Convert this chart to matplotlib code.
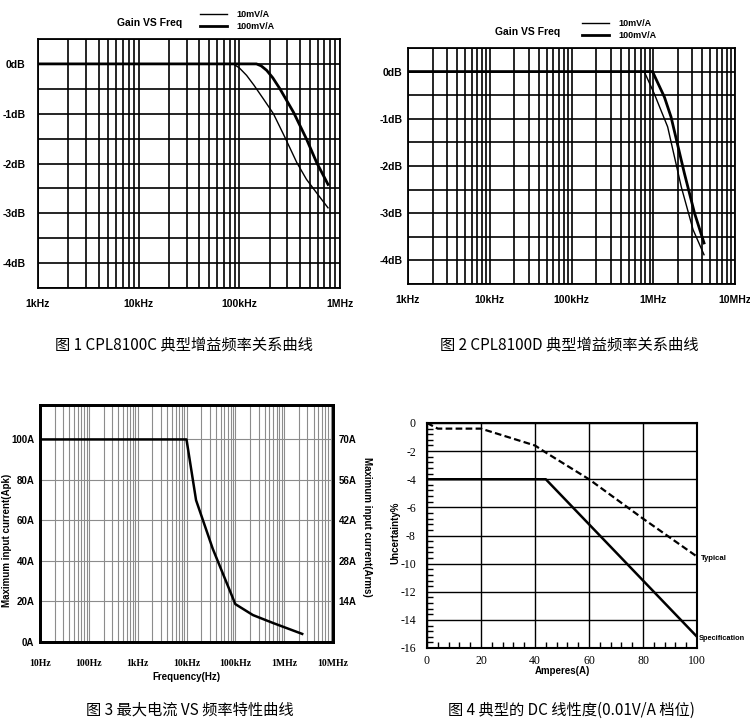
import numpy as np
import matplotlib
matplotlib.use("Agg")
import matplotlib.pyplot as plt
from matplotlib.lines import Line2D
from matplotlib.ticker import FixedLocator, LogLocator, MultipleLocator, NullFormatter

plt.rcParams["axes.unicode_minus"] = False

W, H = 750, 722
SANS = "Liberation Sans"
SERIF = "Liberation Serif"
CJK = ["Noto Sans CJK SC", "DejaVu Sans"]

# Fig 1 -- CPL8100C gain vs frequency (kHz, dB)
f1_10 = [1, 87, 100, 118, 140, 173, 218, 283, 372, 465, 586, 760]
g1_10 = [0, 0, -0.08, -0.23, -0.43, -0.70, -1.0, -1.47, -1.98, -2.32, -2.59, -2.89]
f1_100 = [1, 148, 165, 187, 215, 253, 345, 465, 586, 760]
g1_100 = [0, 0, -0.04, -0.13, -0.28, -0.50, -0.97, -1.51, -1.98, -2.42]

# Fig 2 -- CPL8100D gain vs frequency (kHz, dB)
f2_10 = [1, 776, 1030, 1500, 2200, 3070, 4180]
g2_10 = [0, 0, -0.47, -1.17, -2.44, -3.35, -3.88]
f2_100 = [1, 980, 1370, 1650, 2400, 3200, 4180]
g2_100 = [0, 0, -0.54, -0.96, -2.15, -3.0, -3.63]

gain_ticks = [0, -1, -2, -3, -4]
gain_labels = ["0dB", "-1dB", "-2dB", "-3dB", "-4dB"]
freq1_ticks = [1, 10, 100, 1000]
freq1_labels = ["1kHz", "10kHz", "100kHz", "1MHz"]
freq2_ticks = [1, 10, 100, 1000, 10000]
freq2_labels = ["1kHz", "10kHz", "100kHz", "1MHz", "10MHz"]
series_names = ["10mV/A", "100mV/A"]

# Fig 3 -- max input current vs frequency
f3 = [10, 1e4, 1.57e4, 3.45e4, 1e5, 2.29e5, 5.89e5, 2.34e6]
amp3 = [100, 100, 70, 46, 18.7, 13.3, 9.4, 4.0]
amp_ticks = [0, 20, 40, 60, 80, 100]
amp_labels = ["0A", "20A", "40A", "60A", "80A", "100A"]
rms_ticks = [14, 28, 42, 56, 70]
rms_labels = ["14A", "28A", "42A", "56A", "70A"]
freq3_ticks = [10, 100, 1e3, 1e4, 1e5, 1e6, 1e7]
freq3_labels = ["10Hz", "100Hz", "1kHz", "10kHz", "100kHz", "1MHz", "10MHz"]

# Fig 4 -- DC linearity
amps_typ = [0, 4, 20, 40, 44, 60, 80, 100]
unc_typ = [0, -0.4, -0.4, -1.6, -2.1, -4.0, -6.8, -9.5]
amps_spec = [0, 44, 100]
unc_spec = [-4, -4, -15.2]

captions = ["图 1 CPL8100C 典型增益频率关系曲线",
            "图 2 CPL8100D 典型增益频率关系曲线",
            "图 3 最大电流 VS 频率特性曲线",
            "图 4 典型的 DC 线性度(0.01V/A 档位)"]


def rect(l, t, r, b):
    return [l / W, 1 - b / H, (r - l) / W, (b - t) / H]


fig = plt.figure(figsize=(7.5, 7.22), dpi=100)
bold = dict(family=SANS, weight="bold", size=7)


def gain_panel(box, f10, g10, f100, g100, xticks, xlabels, xlim, pad, leg_xy, title_xy):
    ax = fig.add_axes(rect(*box))
    ax.plot(f10, g10, color="black", lw=1.0)
    ax.plot(f100, g100, color="black", lw=2.0)
    ax.set_xscale("log")
    ax.set_xlim(*xlim)
    ax.set_ylim(-4.5, 0.5)
    ax.xaxis.set_major_locator(FixedLocator(xticks))
    ax.set_xticklabels(xlabels, family=SANS, weight="bold", size=7.5)
    ax.xaxis.set_minor_locator(LogLocator(base=10, subs=range(2, 10)))
    ax.xaxis.set_minor_formatter(NullFormatter())
    ax.set_yticks(gain_ticks)
    ax.set_yticklabels(gain_labels, family=SANS, weight="bold", size=7.5)
    ax.yaxis.set_minor_locator(MultipleLocator(0.5))
    ax.grid(True, which="both", color="black", lw=1.2)
    ax.tick_params(which="both", length=0)
    ax.tick_params(axis="x", pad=8)
    ax.tick_params(axis="y", pad=pad)
    for s in ax.spines.values():
        s.set_linewidth(1.3)
    fig.text(title_xy[0] / W, 1 - title_xy[1] / H, "Gain VS Freq", ha="center", va="center",
             family=SANS, weight="bold", size=7.5)
    handles = [Line2D([], [], color="black", lw=1.0), Line2D([], [], color="black", lw=2.0)]
    fig.legend(handles, series_names, loc="upper left",
               bbox_to_anchor=(leg_xy[0] / W, 1 - leg_xy[1] / H),
               frameon=False, prop=dict(family=SANS, weight="bold", size=6.5),
               handlelength=3.0, handletextpad=1.0, labelspacing=0.35,
               borderpad=0, borderaxespad=0)
    return ax


gain_panel((38, 39, 340, 288), f1_10, g1_10, f1_100, g1_100,
           freq1_ticks, freq1_labels, (1, 1000), 9, (200, 10), (150, 23))
gain_panel((408, 48, 735, 284), f2_10, g2_10, f2_100, g2_100,
           freq2_ticks, freq2_labels, (1, 10000), 4, (582, 19), (528, 32))

# Fig 3
ax3 = fig.add_axes(rect(40, 405, 333, 642))
ax3.plot(f3, amp3, color="black", lw=1.8, zorder=3)
ax3.set_xscale("log")
ax3.set_xlim(10, 1e7)
ax3.set_ylim(0, 117)
ax3.xaxis.set_major_locator(FixedLocator(freq3_ticks))
ax3.set_xticklabels(freq3_labels, family=SERIF, weight="bold", size=7)
ax3.xaxis.set_minor_locator(LogLocator(base=10, subs=range(2, 10)))
ax3.xaxis.set_minor_formatter(NullFormatter())
ax3.set_yticks(amp_ticks)
ax3.set_yticklabels(amp_labels, **bold)
ax3.grid(True, which="both", color="#8c8c8c", lw=0.8)
ax3.tick_params(which="both", length=0)
ax3.tick_params(axis="x", pad=12)
ax3.tick_params(axis="y", pad=4)
for s in ax3.spines.values():
    s.set_linewidth(2.0)
ax3r = ax3.twinx()
ax3r.set_ylim(0, 117 * 0.7)
ax3r.set_yticks(rms_ticks)
ax3r.set_yticklabels(rms_labels, **bold)
ax3r.tick_params(length=0, pad=4)
for s in ax3r.spines.values():
    s.set_linewidth(2.0)
fig.text(186 / W, 1 - 677 / H, "Frequency(Hz)", ha="center", va="center", **bold)
fig.text(7 / W, 1 - 540 / H, "Maximum input current(Apk)", rotation=90,
         ha="center", va="center", **bold)
fig.text(367 / W, 1 - 527 / H, "Maximum input current(Arms)", rotation=-90,
         ha="center", va="center", **bold)

# Fig 4
ax4 = fig.add_axes(rect(427, 423, 697, 648))
ax4.plot(amps_typ, unc_typ, color="black", lw=1.6, ls=(0, (3, 1.5)))
ax4.plot(amps_spec, unc_spec, color="black", lw=1.8)
ax4.set_xlim(0, 100)
ax4.set_ylim(-16, 0)
ax4.xaxis.set_major_locator(MultipleLocator(20))
ax4.xaxis.set_minor_locator(MultipleLocator(4))
ax4.yaxis.set_major_locator(MultipleLocator(2))
ax4.yaxis.set_minor_locator(MultipleLocator(0.4))
ax4.grid(True, which="major", color="black", lw=1.0)
ax4.tick_params(which="both", direction="in", top=False, right=False)
ax4.tick_params(which="major", length=0, labelsize=8.5)
ax4.tick_params(which="minor", length=4, width=1.0)
ax4.tick_params(axis="y", pad=8)
ax4.tick_params(axis="x", pad=5)
for lab in ax4.get_xticklabels() + ax4.get_yticklabels():
    lab.set_family(SERIF)
for s in ax4.spines.values():
    s.set_linewidth(1.5)
fig.text(562 / W, 1 - 671 / H, "Amperes(A)", ha="center", va="center", **bold)
fig.text(395 / W, 1 - 533 / H, "Uncertainty%", rotation=90, ha="center", va="center", **bold)
fig.text(701 / W, 1 - 558 / H, "Typical", ha="left", va="center", family=SANS,
         weight="bold", size=5.6)
fig.text(699 / W, 1 - 638 / H, "Specification", ha="left", va="center", family=SANS,
         weight="bold", size=5.3)

# captions
for (cx, cy), txt in zip([(184, 345), (569, 345), (190, 710), (571, 710)], captions):
    fig.text(cx / W, 1 - cy / H, txt, ha="center", va="center", family=CJK, size=11)

fig.savefig("out.png", dpi=100)
